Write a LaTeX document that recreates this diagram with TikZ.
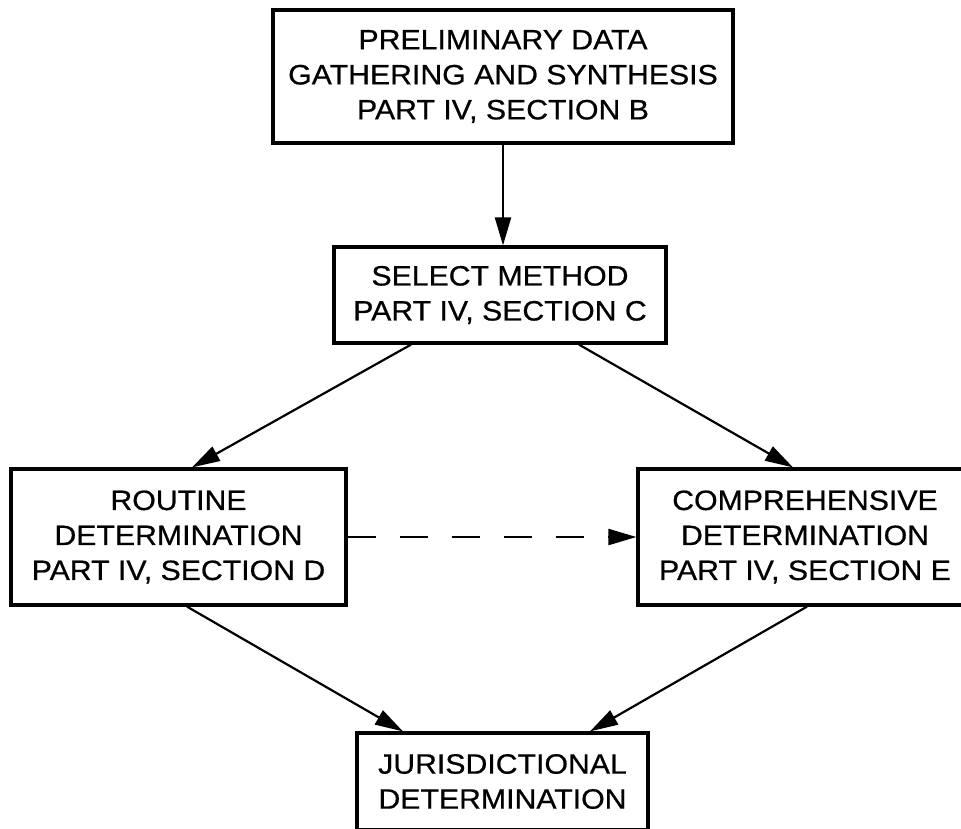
\documentclass[tikz,border=0pt]{standalone}
\usepackage{fontspec}
\setmainfont{Liberation Sans}[FakeStretch=1.08,FakeBold=0.6]
\usetikzlibrary{arrows.meta}
\begin{document}
\begin{tikzpicture}[x=1pt,y=-1pt,
  box/.style={draw, line width=3.2pt, rectangle, align=center, inner sep=0pt,
    font=\fontsize{28}{35}\selectfont},
  conn/.style={line width=2.2pt, -{Triangle[length=28pt,width=16pt]}},
  dconn/.style={conn, dash pattern=on 28pt off 24pt}]
\useasboundingbox (0,0) rectangle (961,828);
\clip (0,0) rectangle (961,828);
\fill[white] (0,0) rectangle (961,828);
\node[box, minimum width=460pt, minimum height=133pt] (top) at (503,76.5)
  {PRELIMINARY DATA\\GATHERING AND SYNTHESIS\\PART IV, SECTION B};
\node[box, minimum width=332pt, minimum height=96pt] (sel) at (500,295)
  {SELECT METHOD\\PART IV, SECTION C};
\node[box, minimum width=335pt, minimum height=136pt] (rou) at (178.5,537)
  {ROUTINE\\DETERMINATION\\PART IV, SECTION D};
\node[box, minimum width=334pt, minimum height=136pt] (com) at (805,537)
  {COMPREHENSIVE\\DETERMINATION\\PART IV, SECTION E};
\node[box, minimum width=291pt, minimum height=97pt] (jur) at (502.5,781.5)
  {JURISDICTIONAL\\DETERMINATION};
\draw[conn] (top.south) -- (top.south |- sel.north);
\draw[conn] ([xshift=-89pt]sel.south) -- ([xshift=13.5pt]rou.north);
\draw[conn] ([xshift=79pt]sel.south) -- ([xshift=-12pt]com.north);
\draw[conn] ([xshift=8.5pt]rou.south) -- ([xshift=-99.5pt]jur.north);
\draw[conn] ([xshift=2pt]com.south) -- ([xshift=87.5pt]jur.north);
\draw[dconn] (rou.east) -- (com.west);
\end{tikzpicture}
\end{document}
